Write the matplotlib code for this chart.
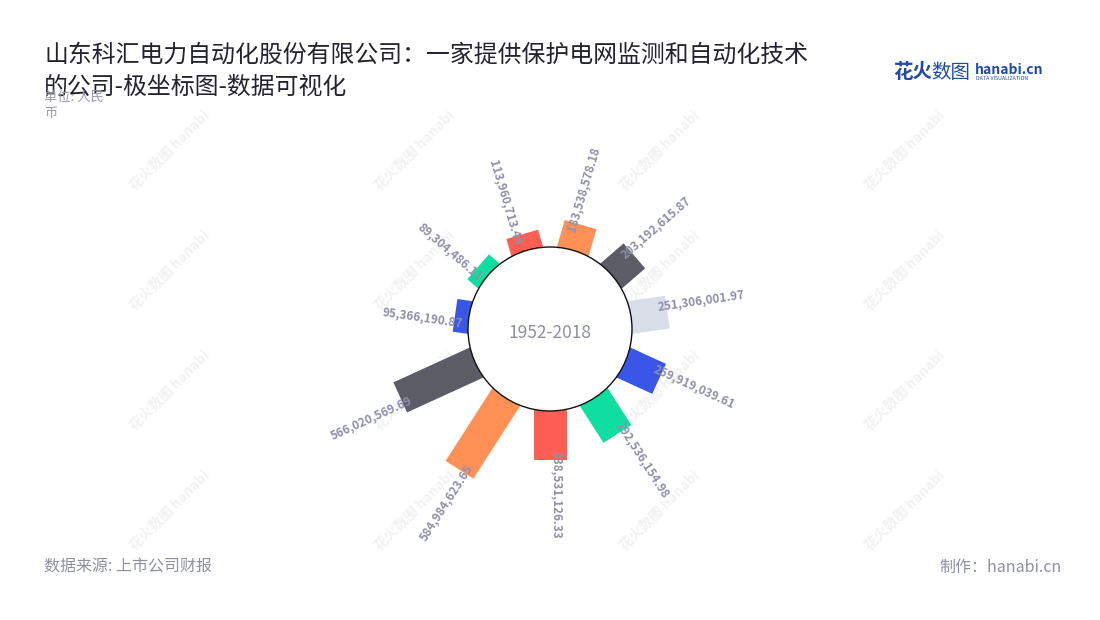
import numpy as np
import matplotlib.pyplot as plt
from matplotlib.patches import Rectangle, Circle
from matplotlib.transforms import Affine2D

plt.rcParams['font.family'] = ['Noto Sans CJK SC', 'DejaVu Sans']

# data (clockwise from top)
values = [183538578.18, 203192615.87, 251306001.97, 259919039.61, 292536154.98,
          338531126.33, 584984623.65, 566020569.69, 95366190.87, 89304486.11,
          113960713.49]
colors = ['#FF9157', '#5B5C66', '#D8DDE8', '#3A56E8', '#0EDFA0', '#FF5E55',
          '#FF9157', '#5B5C66', '#3A56E8', '#0EDFA0', '#FF5E55']
center_label = '1952-2018'
title_lines = ['山东科汇电力自动化股份有限公司：一家提供保护电网监测和自动化技术',
               '的公司-极坐标图-数据可视化']
source = '数据来源: 上市公司财报'
maker = '制作：hanabi.cn'

W, H = 1100, 620
fig = plt.figure(figsize=(W / 100, H / 100), dpi=100)
fig.patch.set_facecolor('white')

# background layer for watermarks / headers in pixel coordinates
bg = fig.add_axes([0, 0, 1, 1])
bg.set_xlim(0, W)
bg.set_ylim(H, 0)
bg.axis('off')

for wx in [170, 415, 660, 905]:
    for wy in [150, 270, 390, 510]:
        bg.text(wx, wy, '花火数图 hanabi', rotation=45, fontsize=10,
                fontweight='bold', color='#F2F2F4', ha='center', va='center',
                zorder=0)

# polar-like chart drawn in an equal-aspect cartesian axes, units = millions
px_per_unit = 0.146
cx, cy, half = 550, 329, 200
ext = half / px_per_unit
ax = fig.add_axes([(cx - half) / W, (H - cy - half) / H, 2 * half / W, 2 * half / H])
ax.set_xlim(-ext, ext)
ax.set_ylim(-ext, ext)
ax.set_aspect('equal')
ax.axis('off')

R0 = 82 / px_per_unit
bar_w = 33 / px_per_unit
n = len(values)
step = 360 / n
for i, (v, c) in enumerate(zip(values, colors)):
    theta = (i + 0.5) * step
    length = v / 1e6
    rect = Rectangle((R0 - 40, -bar_w / 2), length + 40, bar_w, facecolor=c,
                     edgecolor='none', zorder=2)
    rect.set_transform(Affine2D().rotate_deg(90 - theta) + ax.transData)
    ax.add_patch(rect)

    t = np.deg2rad(theta)
    r_txt = R0 + length - 9 / px_per_unit
    off = 7 / px_per_unit
    x = r_txt * np.sin(t) - off * np.cos(t)
    y = r_txt * np.cos(t) + off * np.sin(t)
    if theta <= 180:
        rot, ha = 90 - theta, 'left'
    else:
        rot, ha = 270 - theta, 'right'
    ax.text(x, y, f'{v:,.2f}', rotation=rot, rotation_mode='anchor', ha=ha,
            va='center', fontsize=8.5, fontweight='bold', color='#8F90A8',
            zorder=4)

ax.add_patch(Circle((0, 0), R0, facecolor='white', edgecolor='#111111',
                    linewidth=1, zorder=3))
ax.text(0, -4 / px_per_unit, center_label, ha='center', va='center', fontsize=12.5,
        color='#8E8FA3', zorder=4)

# titles and annotations
bg.text(44, 55, title_lines[0], fontsize=17.2, color='#23232F', va='center', zorder=5)
bg.text(44, 87, title_lines[1], fontsize=17.2, color='#23232F', va='center', zorder=5)
bg.text(44, 97, '单位: 人民', fontsize=9.5, color='#9A9AAE', va='center', zorder=6)
bg.text(44, 113, '币', fontsize=9.5, color='#9A9AAE', va='center', zorder=6)

bg.text(893, 72, '花火', fontsize=14, fontweight='bold', color='#1F4AA8', va='center')
bg.text(931, 72, '数图', fontsize=14, color='#1F4AA8', va='center')
bg.text(975, 70, 'hanabi.cn', fontsize=10, fontweight='bold', color='#1F4AA8', va='center')
bg.text(976, 79, 'DATA VISUALIZATION', fontsize=3.8, color='#1F4AA8', va='center')

bg.text(44, 567, source, fontsize=11.5, color='#8E8FA3', va='center')
bg.text(1062, 567, maker, fontsize=11.5, color='#8E8FA3', va='center', ha='right')

fig.savefig('out.png', dpi=100, facecolor='white')
